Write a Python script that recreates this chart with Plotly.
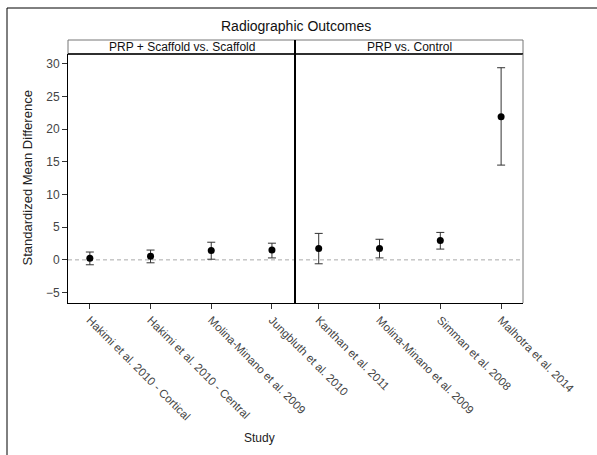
import plotly.graph_objects as go

# ---- data ----
left_studies = ["Hakimi et al. 2010 - Cortical", "Hakimi et al. 2010 - Central",
                "Molina-Minano et al. 2009", "Jungbluth et al. 2010"]
left_smd = [0.25, 0.55, 1.45, 1.5]
left_upper = [1.2, 1.5, 2.7, 2.55]
left_lower = [-0.75, -0.45, 0.1, 0.3]

right_studies = ["Kanthan et al. 2011", "Molina-Minano et al. 2009",
                 "Simman et al. 2008", "Malhotra et al. 2014"]
right_smd = [1.75, 1.75, 2.95, 21.9]
right_upper = [4.05, 3.15, 4.2, 29.4]
right_lower = [-0.6, 0.3, 1.65, 14.5]

panel_titles = ["PRP + Scaffold vs. Scaffold", "PRP vs. Control"]
y_ticks = [-5, 0, 5, 10, 15, 20, 25, 30]

W, H = 597, 455
L, R, T, B = 68, 523, 54, 303
pw, ph = R - L, B - T
split = (295 - L) / pw

def px_x(x):
    return (x - L) / pw

def px_y(y):
    return (B - y) / ph

FONT = "Liberation Sans, Arial, sans-serif"

fig = go.Figure()

def add_series(studies, smd, up, lo, xa):
    fig.add_trace(go.Scatter(
        x=studies, y=smd, mode="markers", xaxis=xa, yaxis="y",
        marker=dict(color="black", size=7),
        error_y=dict(type="data", symmetric=False,
                     array=[u - m for u, m in zip(up, smd)],
                     arrayminus=[m - l for m, l in zip(smd, lo)],
                     color="#333333", thickness=1, width=4),
        showlegend=False, cliponaxis=False))

add_series(left_studies, left_smd, left_upper, left_lower, "x")
add_series(right_studies, right_smd, right_upper, right_lower, "x2")

tickfont = dict(family=FONT, size=11.5, color="#444444")
xcommon = dict(type="category", tickangle=45, ticks="outside", ticklen=5,
               tickcolor="#333333", tickfont=tickfont, showgrid=False,
               zeroline=False, showline=True, linecolor="black", linewidth=1,
               anchor="y")

fig.update_layout(
    width=W, height=H,
    margin=dict(l=L, r=W - R, t=T, b=H - B),
    paper_bgcolor="white", plot_bgcolor="white",
    font=dict(family=FONT, color="#222222"),
    xaxis=dict(domain=[0, split], range=[-0.36, 3.38], **xcommon),
    xaxis2=dict(domain=[split, 1], range=[-0.39, 3.36], **xcommon),
    yaxis=dict(range=[-6.6, 31.5], tickvals=y_ticks, ticks="outside", ticklen=5,
               tickcolor="#333333", tickfont=dict(family=FONT, size=12, color="#444444"),
               showgrid=False, zeroline=False, showline=True, linecolor="black",
               linewidth=1, title=None),
)

shapes = []
# dashed zero reference line
shapes.append(dict(type="line", xref="paper", yref="y", x0=0, x1=1, y0=0, y1=0,
                   line=dict(color="#aaaaaa", width=1, dash="4px,3px"), layer="below"))
# strip boxes
strip_top = px_y(40)
for x0, x1 in [(0, split), (split, 1)]:
    shapes.append(dict(type="rect", xref="paper", yref="paper", x0=x0, x1=x1,
                       y0=1, y1=strip_top, line=dict(color="#777777", width=1)))
# plot top line
shapes.append(dict(type="line", xref="paper", yref="paper", x0=0, x1=1, y0=1, y1=1,
                   line=dict(color="black", width=1.5)))
# right edge
shapes.append(dict(type="line", xref="paper", yref="paper", x0=1, x1=1, y0=0, y1=1,
                   line=dict(color="#777777", width=1)))
# divider
shapes.append(dict(type="line", xref="paper", yref="paper", x0=split, x1=split,
                   y0=0, y1=strip_top, line=dict(color="black", width=2)))
# outer frame (top and left)
shapes.append(dict(type="line", xref="paper", yref="paper", x0=px_x(7), x1=px_x(597),
                   y0=px_y(8), y1=px_y(8), line=dict(color="black", width=1)))
shapes.append(dict(type="line", xref="paper", yref="paper", x0=px_x(7), x1=px_x(7),
                   y0=px_y(8), y1=px_y(456), line=dict(color="black", width=1)))
fig.update_layout(shapes=shapes)

ann = []
ann.append(dict(text="Radiographic Outcomes", xref="paper", yref="paper",
                x=0.5, y=px_y(26), showarrow=False, xanchor="center", yanchor="middle",
                font=dict(family=FONT, size=14, color="#111111")))
for (x0, x1), t in zip([(0, split), (split, 1)], panel_titles):
    ann.append(dict(text=t, xref="paper", yref="paper", x=(x0 + x1) / 2,
                    y=px_y(47), showarrow=False, xanchor="center", yanchor="middle",
                    font=dict(family=FONT, size=12, color="#111111")))
ann.append(dict(text="Standardized Mean Difference", xref="paper", yref="paper",
                x=px_x(27), y=0.5, textangle=-90, showarrow=False,
                xanchor="center", yanchor="middle",
                font=dict(family=FONT, size=13, color="#222222")))
ann.append(dict(text="Study", xref="paper", yref="paper",
                x=px_x(259), y=px_y(438), showarrow=False,
                xanchor="center", yanchor="middle",
                font=dict(family=FONT, size=12, color="#222222")))
fig.update_layout(annotations=ann)

fig.write_html("out.html", config={"displayModeBar": False},
               post_script="document.body.style.margin='0';document.body.style.overflow='hidden';")
